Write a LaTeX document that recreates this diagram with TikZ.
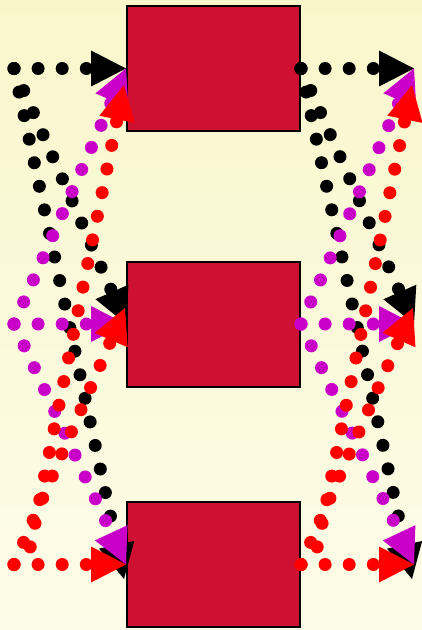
\documentclass[tikz,border=0pt]{standalone}
\usetikzlibrary{arrows.meta}
\definecolor{boxred}{RGB}{206,17,50}
\definecolor{mag}{RGB}{200,0,200}
\definecolor{bgtop}{RGB}{250,246,204}
\definecolor{bgbot}{RGB}{253,252,232}
\begin{document}
\begin{tikzpicture}[x=1pt,y=-1pt,
  box/.style={draw=black,line width=2pt,fill=boxred,minimum width=173pt,minimum height=125pt,inner sep=0pt},
  dotline/.style={line width=13pt,line cap=round,dash pattern=on 0pt off 24.1pt,-{Triangle[length=35pt,width=36pt,line width=0pt]}}]
\shade[top color=bgtop,bottom color=bgbot] (0,0) rectangle (422,630);
\useasboundingbox (0,0) rectangle (422,630);
\node[box] (B1) at (213.5,68.5) {};
\node[box] (B2) at (213.5,324) {};
\node[box] (B3) at (213.5,564.5) {};
\coordinate (L1) at (14,68.5);
\coordinate (L2) at (14,324);
\coordinate (L3) at (14,564.5);
\coordinate (R1) at (414,68.5);
\coordinate (R2) at (414,324);
\coordinate (R3) at (414,564.5);
% black
\draw[dotline,black] (L1) -- (B1.west);
\draw[dotline,black] (L1) -- (B2.west);
\draw[dotline,black] (L1) -- ([shift={(-2,14.5)}]B3.west);
\draw[dotline,black] (B1.east) -- (R1);
\draw[dotline,black] (B1.east) -- (R2);
\draw[dotline,black] (B1.east) -- ([shift={(-2,14.5)}]R3);
% magenta
\draw[dotline,mag] (L2) -- (B1.west);
\draw[dotline,mag] (L2) -- (B2.west);
\draw[dotline,mag] (L2) -- (B3.west);
\draw[dotline,mag] (B2.east) -- (R1);
\draw[dotline,mag] (B2.east) -- (R2);
\draw[dotline,mag] (B2.east) -- (R3);
% red
\draw[dotline,red] (L3) -- ++(16,-16.5) -- ([shift={(-2,16.5)}]B1.west);
\draw[dotline,red] (L3) -- ([shift={(-1,-16)}]B2.west);
\draw[dotline,red] (L3) -- (B3.west);
\draw[dotline,red] (B3.east) -- ++(16,-16.5) -- ([shift={(-2,16.5)}]R1);
\draw[dotline,red] (B3.east) -- ([shift={(-1,-16)}]R2);
\draw[dotline,red] (B3.east) -- (R3);
\end{tikzpicture}
\end{document}
